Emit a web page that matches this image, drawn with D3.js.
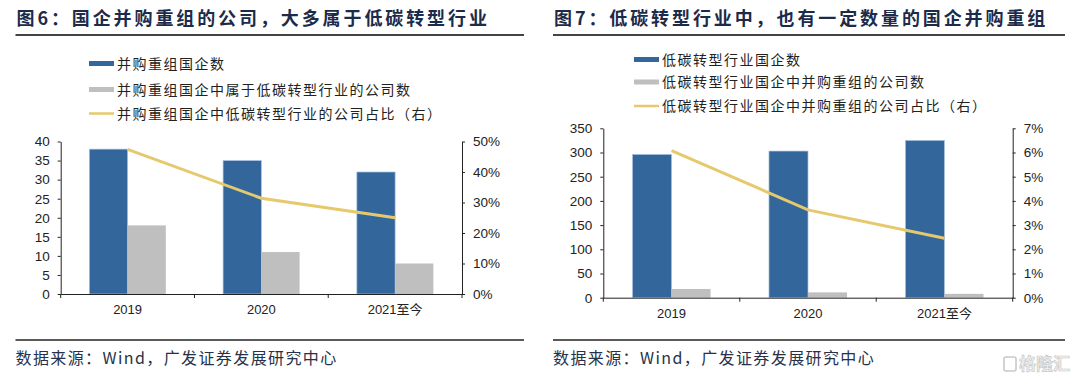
<!DOCTYPE html>
<html><head><meta charset="utf-8">
<script src="https://cdn.jsdelivr.net/npm/d3@7"></script>
<style>
html,body{margin:0;padding:0;background:#fff;}
svg{display:block;}
</style></head>
<body>
<svg id="c" width="1080" height="383"></svg>
<script>
// ---- data ----
const categories = ["2019", "2020", "2021至今"];

const leftTitle = "图6：国企并购重组的公司，大多属于低碳转型行业";
const leftSeriesNames = ["并购重组国企数", "并购重组国企中属于低碳转型行业的公司数", "并购重组国企中低碳转型行业的公司占比（右）"];
const leftTotal = [38, 35, 32];
const leftLowCarbon = [18, 11, 8];
const leftShare = [47.4, 31.4, 25.0];
const leftTicks = [0, 5, 10, 15, 20, 25, 30, 35, 40];
const leftPctTicks = [0, 10, 20, 30, 40, 50];

const rightTitle = "图7：低碳转型行业中，也有一定数量的国企并购重组";
const rightSeriesNames = ["低碳转型行业国企数", "低碳转型行业国企中并购重组的公司数", "低碳转型行业国企中并购重组的公司占比（右）"];
const rightTotal = [296, 303, 325];
const rightMA = [18, 11, 8];
const rightShare = [6.08, 3.63, 2.46];
const rightTicks = [0, 50, 100, 150, 200, 250, 300, 350];
const rightPctTicks = [0, 1, 2, 3, 4, 5, 6, 7];

const sourceText = "数据来源：Wind，广发证券发展研究中心";

// ---- style ----
const BLUE = "#33679c", GREY = "#bfbfbf", GOLD = "#e6c96c";
const LATIN = "'Liberation Sans', Arial, 'Noto Sans CJK SC', sans-serif";
const CJK = "'Noto Sans CJK SC', 'Liberation Sans', sans-serif";
const TITLE_COLOR = "#1c2b4a";

const svg = d3.select("#c");

function panel(cfg) {
  const g = svg.append("g");
  // title
  g.append("text").attr("x", cfg.panelX0 + 1).attr("y", 19).attr("dy", "0.35em")
    .attr("font-family", CJK).attr("font-weight", "bold").attr("font-size", 18)
    .attr("letter-spacing", "2.9px").attr("fill", TITLE_COLOR).text(cfg.title);
  g.append("line").attr("x1", cfg.panelX0).attr("x2", cfg.panelX1).attr("y1", 35).attr("y2", 35)
    .attr("stroke", "#444").attr("stroke-width", 2);

  // legend
  cfg.names.forEach((name, i) => {
    const y = cfg.legendY[i];
    if (i < 2) {
      g.append("rect").attr("x", cfg.legendX).attr("y", y - 2.5).attr("width", 25).attr("height", 5)
        .attr("fill", i === 0 ? BLUE : GREY);
    } else {
      g.append("line").attr("x1", cfg.legendX).attr("x2", cfg.legendX + 25).attr("y1", y).attr("y2", y)
        .attr("stroke", GOLD).attr("stroke-width", 2.5);
    }
    g.append("text").attr("x", cfg.legendX + 28).attr("y", y).attr("dy", "0.36em")
      .attr("font-family", CJK).attr("font-size", 14).attr("letter-spacing", "1.5px")
      .attr("fill", "#222").text(name);
  });

  // scales
  const x = d3.scaleBand().domain(categories).range([cfg.x0, cfg.x1]).padding(0);
  const bw = x.bandwidth();
  const x1 = d3.scaleBand().domain(["a", "b"]).range([bw * 0.214, bw * 0.786]).padding(0);
  const y = d3.scaleLinear().domain([0, cfg.yMax]).range([cfg.yBottom, cfg.yTop]);
  const y2 = d3.scaleLinear().domain([0, cfg.y2Max]).range([cfg.yBottom, cfg.yTop]);

  // bars
  const rows = categories.map((c, i) => ({c, a: cfg.total[i], b: cfg.sub[i], r: cfg.share[i]}));
  const bg = g.append("g");
  bg.selectAll("rect.a").data(rows).join("rect").attr("class", "a")
    .attr("x", d => x(d.c) + x1("a")).attr("width", x1.bandwidth())
    .attr("y", d => y(d.a)).attr("height", d => y(0) - y(d.a))
    .attr("fill", BLUE).attr("stroke", "#a9c2de").attr("stroke-width", 0.7);
  bg.selectAll("rect.b").data(rows).join("rect").attr("class", "b")
    .attr("x", d => x(d.c) + x1("b")).attr("width", x1.bandwidth())
    .attr("y", d => y(d.b)).attr("height", d => y(0) - y(d.b))
    .attr("fill", GREY);

  // axes
  const tickFont = (sel, size) => sel.selectAll("text").attr("font-family", LATIN).attr("font-size", size).attr("fill", "#222");
  const yAxis = g.append("g").attr("transform", `translate(${cfg.x0},0)`)
    .call(d3.axisLeft(y).tickValues(cfg.ticks).tickSize(3).tickPadding(8).tickSizeOuter(0));
  tickFont(yAxis, 13.5);
  const yAxis2 = g.append("g").attr("transform", `translate(${cfg.x1},0)`)
    .call(d3.axisRight(y2).tickValues(cfg.pctTicks).tickSize(3).tickPadding(8).tickSizeOuter(0)
      .tickFormat(d => d + "%"));
  tickFont(yAxis2, 13.5);
  const xAxis = g.append("g").attr("transform", `translate(0,${cfg.yBottom})`)
    .call(d3.axisBottom(x).tickSize(0).tickPadding(11).tickSizeOuter(0));
  tickFont(xAxis, 13);
  // boundary ticks on the category axis
  const bounds = categories.map(c => x(c)).concat([x(categories[categories.length - 1]) + bw]);
  g.append("g").selectAll("line").data(bounds).join("line")
    .attr("x1", d => d).attr("x2", d => d).attr("y1", cfg.yBottom).attr("y2", cfg.yBottom + 4)
    .attr("stroke", "#222");
  g.selectAll(".domain").attr("stroke", "#222");
  g.selectAll(".tick line").attr("stroke", "#222");

  // line
  const line = d3.line().x(d => x(d.c) + bw / 2).y(d => y2(d.r));
  g.append("path").datum(rows).attr("d", line).attr("fill", "none")
    .attr("stroke", GOLD).attr("stroke-width", 3);

  // source
  g.append("line").attr("x1", cfg.panelX0).attr("x2", cfg.panelX1).attr("y1", 340).attr("y2", 340)
    .attr("stroke", "#222").attr("stroke-width", 1.5);
  g.append("text").attr("x", cfg.panelX0).attr("y", 358).attr("dy", "0.36em")
    .attr("font-family", CJK).attr("font-size", 16).attr("letter-spacing", "1.4px")
    .attr("fill", "#27324a").text(sourceText);
}

panel({
  title: leftTitle, names: leftSeriesNames, panelX0: 15.5, panelX1: 524,
  legendX: 89, legendY: [63.5, 89.5, 113.5],
  x0: 60.7, x1: 462, yTop: 141.5, yBottom: 294,
  yMax: 40, y2Max: 50, ticks: leftTicks, pctTicks: leftPctTicks,
  total: leftTotal, sub: leftLowCarbon, share: leftShare
});
panel({
  title: rightTitle, names: rightSeriesNames, panelX0: 553, panelX1: 1065,
  legendX: 634, legendY: [59.5, 82, 106],
  x0: 603.3, x1: 1012.7, yTop: 128.3, yBottom: 297.7,
  yMax: 350, y2Max: 7, ticks: rightTicks, pctTicks: rightPctTicks,
  total: rightTotal, sub: rightMA, share: rightShare
});

// watermark
const wm = svg.append("g").attr("opacity", 0.9);
wm.append("rect").attr("x", 1004).attr("y", 357).attr("width", 12).attr("height", 14).attr("rx", 2)
  .attr("fill", "none").attr("stroke", "#c4c4c4").attr("stroke-width", 1.6);
wm.append("text").attr("x", 1019).attr("y", 364).attr("dy", "0.36em")
  .attr("font-family", CJK).attr("font-size", 17).attr("font-weight", "bold")
  .attr("fill", "#f0f0f0").attr("stroke", "#c4c4c4").attr("stroke-width", 0.7).text("格隆汇");
</script>
</body></html>
